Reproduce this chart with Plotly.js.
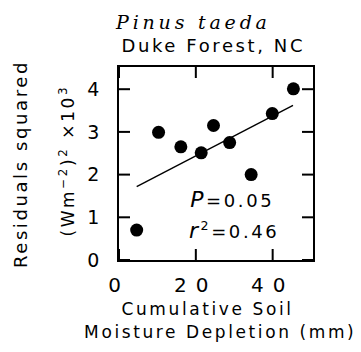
<!DOCTYPE html>
<html><head><meta charset="utf-8">
<script src="https://cdn.plot.ly/plotly-3.0.1.min.js"></script>
<style>
body{margin:0;background:#fff}
#g{width:361px;height:352px}
#g .annotation-text{letter-spacing:2.6px}
#g .annotation[data-index="0"] .annotation-text{letter-spacing:3.8px}
#g .xtick text{letter-spacing:9px}
</style>
</head><body><div id="g"></div>
<script>
var depletion = [4.6, 10.3, 16.1, 21.4, 24.6, 28.8, 34.4, 39.9, 45.4];
var residuals = [0.70, 2.99, 2.65, 2.51, 3.15, 2.75, 2.00, 3.43, 4.01];
var fitX = [4.6, 45.3];
var fitY = [1.72, 3.62];
var xTicks = [0, 20, 40];
var yTicks = [0, 1, 2, 3, 4];

var sans = 'DejaVu Sans, sans-serif';
var xRange = [0, 50.5], yRange = [0, 4.52];
var pw = 361 - 119 - 48, ph = 352 - 67 - 92;
var tickLen = 11;
var dxTick = (xRange[1] - xRange[0]) * tickLen / pw;
var dyTick = (yRange[1] - yRange[0]) * tickLen / ph;

// inward tick marks built from the tick arrays
var tx = [], ty = [];
xTicks.forEach(function(v){
  tx.push(v, v, null, v, v, null);
  ty.push(yRange[0], yRange[0] + dyTick, null, yRange[1] - dyTick, yRange[1], null);
});
yTicks.forEach(function(v){
  tx.push(xRange[0], xRange[0] + dxTick, null, xRange[1] - dxTick, xRange[1], null);
  ty.push(v, v, null, v, v, null);
});

var traces = [
  {x: tx, y: ty, mode: 'lines', line: {color: '#000', width: 2}, hoverinfo: 'skip', connectgaps: false, cliponaxis: false},
  {x: fitX, y: fitY, mode: 'lines', line: {color: '#000', width: 1.4}, hoverinfo: 'skip'},
  {x: depletion, y: residuals, mode: 'markers', marker: {color: '#000', size: 13}}
];
var axisCommon = {showgrid: false, zeroline: false, showline: true, linecolor: '#000', linewidth: 1.6,
  ticks: '', mirror: true,
  tickfont: {family: sans, size: 19, color: '#000'}};
var layout = {
  width: 361, height: 352, showlegend: false,
  margin: {l: 119, r: 48, t: 67, b: 92},
  paper_bgcolor: '#fff', plot_bgcolor: '#fff',
  xaxis: Object.assign({}, axisCommon, {range: xRange, tickmode: 'array', tickvals: xTicks, ticktext: xTicks.map(String), ticklabelstandoff: 6,
    tickfont: {family: sans, size: 20, color: '#000'}}),
  yaxis: Object.assign({}, axisCommon, {range: yRange, tickmode: 'array', tickvals: yTicks, ticktext: yTicks.map(String), ticklabelstandoff: 14}),
  annotations: [
    {text: '<i>Pinus taeda</i>', font: {family: 'DejaVu Serif, serif', size: 19, color: '#000'}, _px: [193, 22]},
    {text: 'Duke Forest, NC', font: {family: sans, size: 18, color: '#000'}, _px: [213, 45]},
    {text: 'Cumulative Soil', font: {family: sans, size: 17, color: '#000'}, _px: [207, 309]},
    {text: 'Moisture Depletion (mm)', font: {family: sans, size: 17, color: '#000'}, _px: [220, 332]},
    {text: 'Residuals squared', textangle: -90, font: {family: sans, size: 18, color: '#000'}, _px: [20, 164]},
    {text: '(Wm<sup>\u22122</sup>)<sup>2</sup> \u00d710<sup>3</sup>', textangle: -90, font: {family: sans, size: 17, color: '#000'}, _px: [67, 161]},
    {text: '<span style="font-size:22px"><i>P</i></span>=0.05', font: {family: sans, size: 18, color: '#000'}, _px: [232, 199]},
    {text: '<span style="font-size:22px"><i>r</i></span><sup>2</sup>=0.46', font: {family: sans, size: 18, color: '#000'}, _px: [234, 230]}
  ]
};
layout.annotations.forEach(function(a){
  var px = a._px;
  a.showarrow = false;
  a.xref = 'paper'; a.yref = 'paper';
  a.x = (px[0] - 119) / pw;
  a.y = 1 - (px[1] - 67) / ph;
  a.xanchor = 'center'; a.yanchor = 'middle';
  delete a._px;
});
Plotly.newPlot('g', traces, layout, {displayModeBar: false});
</script></body></html>
